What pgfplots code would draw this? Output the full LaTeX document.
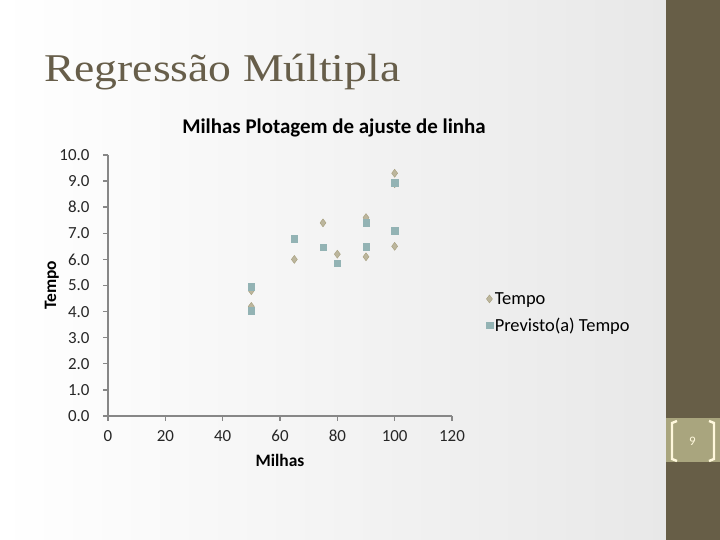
\documentclass[border=0pt]{standalone}
\usepackage{pgfplots}
\pgfplotsset{compat=1.18}
\usepackage{fontspec}
\setmainfont{Carlito}
\newfontfamily\titlefont[FakeStretch=1.16]{Liberation Serif}
\definecolor{bar}{HTML}{675E47}
\definecolor{numbox}{HTML}{A9A57E}
\definecolor{cream}{HTML}{FFF8DC}
\definecolor{titlecol}{HTML}{675E4A}
\definecolor{axgray}{HTML}{878787}
\definecolor{tempo}{HTML}{A69E7C}
\definecolor{prev}{HTML}{93B3B4}

\pgfplotstableread{
milhas tempo previsto
100 9.3 8.94
50  4.8 4.96
100 8.9 8.94
100 6.5 7.10
50  4.2 4.04
80  6.2 5.86
75  7.4 6.46
65  6.0 6.80
90  7.6 7.41
90  6.1 6.49
}\dados

\begin{document}
\begin{tikzpicture}
\begin{scope}[x=1bp,y=1bp]
\path[use as bounding box] (0,0) rectangle (720,540);
% fundo do slide
\shade[left color=white, right color=black!9] (0,0) rectangle (666,540);
\fill[bar] (666,0) rectangle (720,540);
\fill[numbox] (666,78) rectangle (720,122);
\draw[cream, line width=2.4bp] (677,119) -- (672,117) -- (672,81) -- (677,79);
\draw[cream, line width=2.4bp] (709,119) -- (714,117) -- (714,81) -- (709,79);
\node[cream, font=\fontsize{13}{15}\selectfont] at (692.5,99) {9};

\node[anchor=base west, text=titlecol, inner sep=0pt,
      font=\titlefont\fontsize{39.5}{44}\selectfont] at (44,458) {Regressão Múltipla};

\node[font=\bfseries\fontsize{21}{24}\selectfont] at (334,412) {Milhas Plotagem de ajuste de linha};
\end{scope}

\begin{axis}[
  at={(108bp,124bp)}, anchor=south west,
  scale only axis, width=344bp, height=261bp,
  xmin=0, xmax=120, ymin=0, ymax=10,
  xtick={0,20,40,60,80,100,120}, xticklabels={0,20,40,60,80,100,120},
  ytick={0,1,2,3,4,5,6,7,8,9,10},
  yticklabels={0.0,1.0,2.0,3.0,4.0,5.0,6.0,7.0,8.0,9.0,10.0},
  axis lines*=left,
  axis line style={axgray, line width=1.4bp},
  tick style={axgray, line width=1.4bp},
  tick align=outside, major tick length=5bp,
  ticklabel style={font=\fontsize{17}{20}\selectfont, text=black!85},
  xticklabel style={anchor=north, yshift=-5bp, text height=12bp, text depth=0bp},
  yticklabel style={xshift=-10bp},
  xlabel={Milhas}, ylabel={Tempo},
  label style={font=\bfseries\fontsize{17.5}{20}\selectfont},
  xlabel style={at={(axis description cs:0.5,-0.172)}, anchor=center},
  ylabel style={at={(axis description cs:-0.163,0.5)}, anchor=center},
  legend style={draw=none, fill=none, at={(1.09,0.49)}, anchor=north west,
    font=\fontsize{18.5}{21}\selectfont, row sep=8bp},
  legend cell align=left,
  clip=false,
]
\addplot[only marks, mark=diamond*, mark size=4bp, mark options={fill=tempo!75!white, draw=tempo}]
  table[x=milhas, y=tempo] {\dados};
\addlegendentry{Tempo}
\addplot[only marks, mark=square*, mark size=3.3bp, mark options={fill=prev, draw=prev}]
  table[x=milhas, y=previsto] {\dados};
\addlegendentry{Previsto(a) Tempo}
\end{axis}
\end{tikzpicture}
\end{document}
